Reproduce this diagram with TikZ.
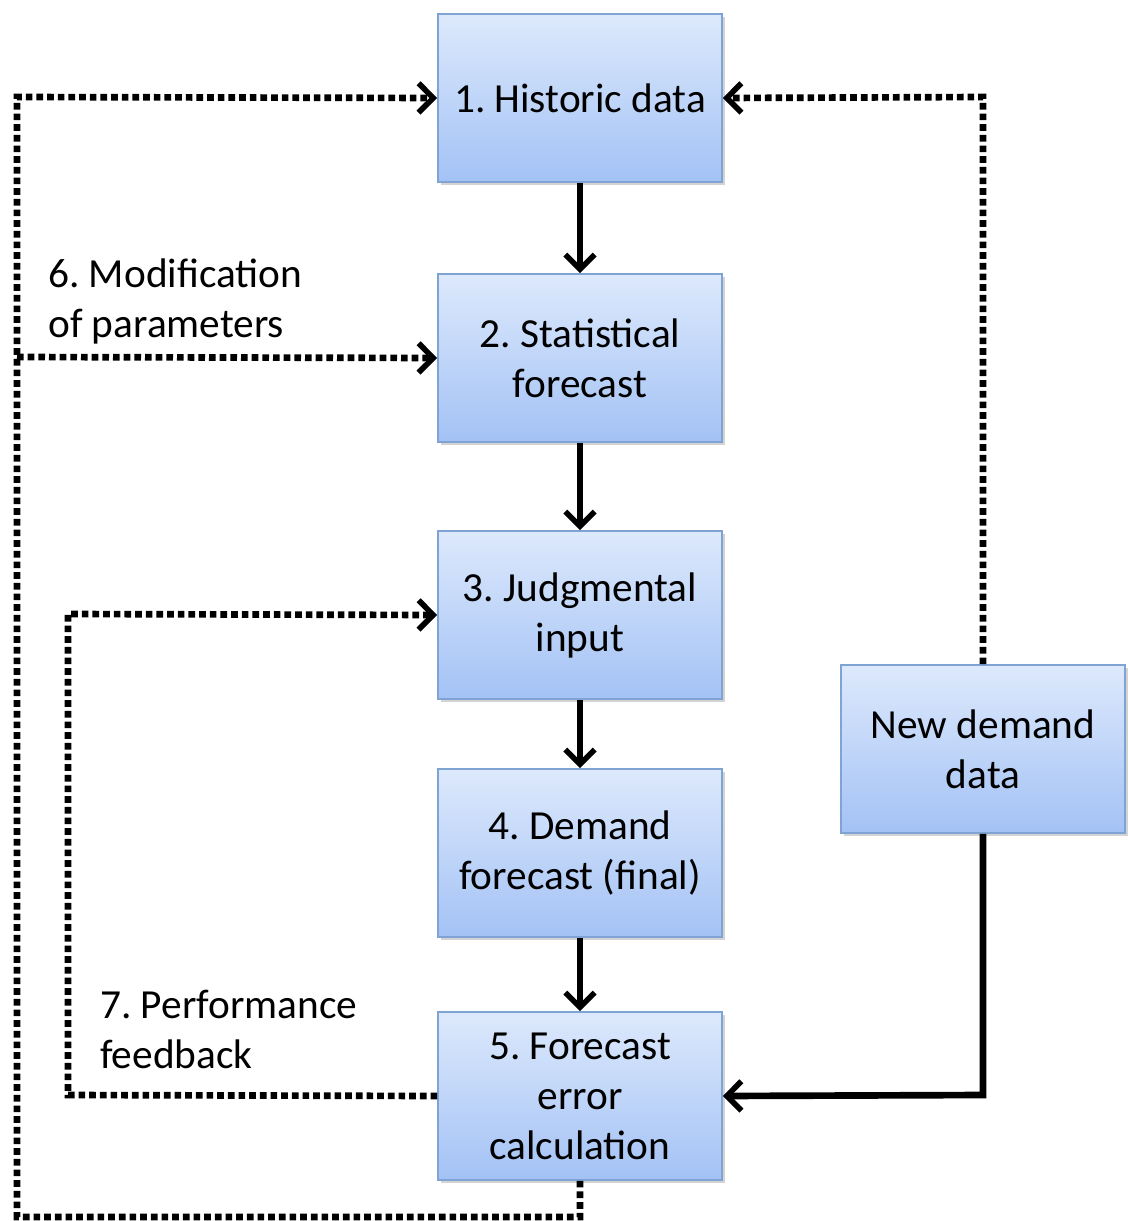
\documentclass[tikz,border=0pt]{standalone}
\usepackage{fontspec}
\setmainfont{Carlito}
\frenchspacing
\usetikzlibrary{arrows.meta,shadows}
\definecolor{boxtop}{HTML}{DDE9FC}
\definecolor{boxbot}{HTML}{A3C2F5}
\definecolor{boxedge}{HTML}{7FA3D3}
\begin{document}
\begin{tikzpicture}[x=0.75pt,y=-0.75pt,
  box/.style={draw=boxedge,line width=1.2pt,top color=boxtop,bottom color=boxbot,
    minimum width=213pt,minimum height=126pt,inner sep=0pt,align=center,
    font=\fontsize{31}{37.5}\selectfont,
    drop shadow={shadow xshift=2pt,shadow yshift=-2pt,opacity=0.35,fill=gray}},
  lbl/.style={font=\fontsize{31}{37.5}\selectfont,align=left,anchor=west,inner sep=0pt},
  solid arr/.style={line width=5pt,-{Straight Barb[length=11pt,width=22pt,line width=4.2pt]}},
  dot arr/.style={line width=5pt,dash pattern=on 5pt off 3pt,-{Straight Barb[length=11pt,width=22pt,line width=4.2pt,sep=0pt]}}]
\useasboundingbox (0,0) rectangle (1128,1221);
\node[box] (b1) at (580,98) {1. Historic data};
\node[box] (b2) at (580,358) {2. Statistical\\forecast};
\node[box] (b3) at (580,615) {3. Judgmental\\input};
\node[box] (b4) at (580,853) {4. Demand\\forecast (final)};
\node[box] (b5) at (580,1096) {5. Forecast\\error\\calculation};
\node[box] (nd) at (983,749) {New demand\\data};
\node[lbl] (l6) at (48,301) {6. Modification\\of parameters};
\node[lbl] (l7) at (100,1029) {7. Performance\\feedback};
\coordinate (lt) at (17,97);
\coordinate (lb) at (17,1217);
\coordinate (l2) at (17,357);
\coordinate (it) at (68,614);
\coordinate (ib) at (68,1095);
\coordinate (rt) at (983,97);
\coordinate (rb) at (983,1095);
\draw[solid arr] (b1) -- (b2);
\draw[solid arr] (b2) -- (b3);
\draw[solid arr] (b3) -- (b4);
\draw[solid arr] (b4) -- (b5);
\draw[solid arr] (nd.south) -- (rb) -- (b5.east);
\draw[dot arr] (b5.south) |- (lb) -- (lt) -- (b1.west);
\draw[dot arr] (l2) -- (b2.west);
\draw[dot arr] (b5.west) -- (ib) -- (it) -- (b3.west);
\draw[dot arr] (nd.north) -- (rt) -- (b1.east);
\end{tikzpicture}
\end{document}
